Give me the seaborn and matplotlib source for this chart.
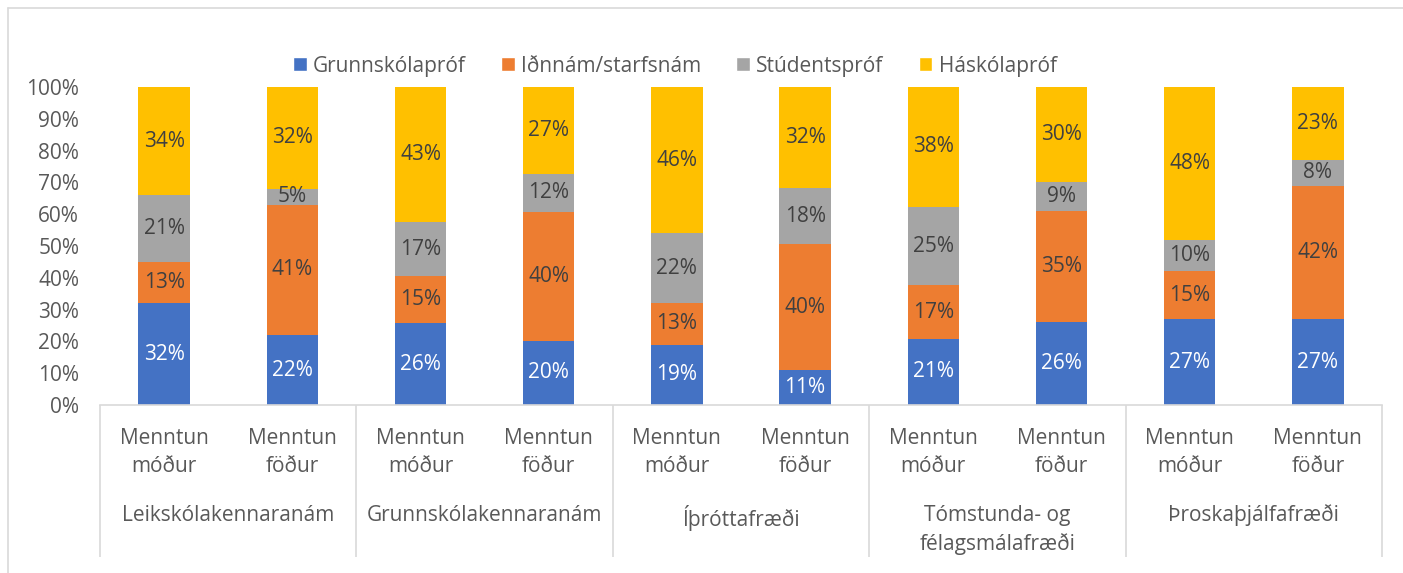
import pandas as pd
import seaborn as sns
import matplotlib.pyplot as plt
from matplotlib.colors import to_hex
from matplotlib.lines import Line2D
from matplotlib.patches import Patch

# data (percent labels)
programs = ["Leikskólakennaranám", "Grunnskólakennaranám", "Íþróttafræði",
            "Tómstunda- og\nfélagsmálafræði", "Þroskaþjálfafræði"]
parents = ["Menntun\nmóður", "Menntun\nföður"]
levels = ["Grunnskólapróf", "Iðnnám/starfsnám", "Stúdentspróf", "Háskólapróf"]
colors = ["#4472c4", "#ed7d31", "#a5a5a5", "#ffc000"]

grunnskolaprof = [32, 22, 26, 20, 19, 11, 21, 26, 27, 27]
idnnam = [13, 41, 15, 40, 13, 40, 17, 35, 15, 42]
studentsprof = [21, 5, 17, 12, 22, 18, 25, 9, 10, 8]
haskolaprof = [34, 32, 43, 27, 46, 32, 38, 30, 48, 23]

TXT = "#595959"
FONT = ["Open Sans", "DejaVu Sans"]
FS = 15


def build_frame():
    rows = []
    for lvl, vals in zip(levels, [grunnskolaprof, idnnam, studentsprof, haskolaprof]):
        for i, v in enumerate(vals):
            rows.append({"bar": i, "level": lvl, "value": v})
    return pd.DataFrame(rows)


def main():
    df = build_frame()
    sns.set_theme(style="white")
    plt.rcParams["font.family"] = FONT

    W, H = 1403, 573
    fig = plt.figure(figsize=(W / 100, H / 100), dpi=100)
    ax = fig.add_axes([100 / W, 1 - 405 / H, 1282 / W, 318 / H])

    # 100% stacked bars, first hue level ends on top so reverse the order
    sns.histplot(df, x="bar", hue="level", weights="value", multiple="fill",
                 discrete=True, shrink=0.4, hue_order=levels[::-1],
                 palette=dict(zip(levels, colors)), alpha=1, linewidth=0,
                 legend=False, ax=ax)

    labels = {lvl: vals for lvl, vals in
              zip(levels, [grunnskolaprof, idnnam, studentsprof, haskolaprof])}
    for c in ax.containers:
        fc = to_hex(c.patches[0].get_facecolor())
        lvl = levels[colors.index(fc)]
        ax.bar_label(c, labels=[f"{v}%" for v in labels[lvl]], label_type="center",
                     color="white" if lvl == levels[0] else "#404040", fontsize=FS)

    ax.set_xlim(-0.5, 9.5)
    ax.set_ylim(0, 1)
    ax.set_yticks([i / 10 for i in range(11)])
    ax.set_yticklabels([f"{i * 10}%" for i in range(11)])
    ax.set_xticks(range(10))
    ax.set_xticklabels(parents * 5, linespacing=1.45)
    ax.tick_params(axis="both", length=0, labelsize=FS, labelcolor=TXT)
    ax.tick_params(axis="y", pad=15)
    ax.tick_params(axis="x", pad=16.5)
    ax.set_xlabel("")
    ax.set_ylabel("")
    for s in ["left", "top", "right"]:
        ax.spines[s].set_visible(False)
    ax.spines["bottom"].set_color("#d9d9d9")
    ax.spines["bottom"].set_linewidth(1.2)

    # group labels and separators of the category axis
    tr = ax.get_xaxis_transform()
    for g, name in enumerate(programs):
        ax.text(2 * g + 0.5, -0.313, name, transform=tr, ha="center", va="top",
                fontsize=FS, color=TXT, linespacing=1.45)
    ax.vlines([-0.5, 1.5, 3.5, 5.5, 7.5, 9.5], -0.478, 0, transform=tr,
              colors="#d9d9d9", linewidth=1.2, clip_on=False)

    handles = [Patch(facecolor=c, label=l) for l, c in zip(levels, colors)]
    fig.legend(handles=handles, loc="center", bbox_to_anchor=(0.481, 1 - 66 / H),
               ncol=4, frameon=False, fontsize=FS, labelcolor=TXT,
               handlelength=0.65, handleheight=0.65, handletextpad=0.3,
               columnspacing=1.7)

    # chart border (only top and left edges are visible)
    fig.add_artist(Line2D([7.5 / W, 7.5 / W], [0, 1 - 7.5 / H], color="#d9d9d9",
                          linewidth=1.2, transform=fig.transFigure))
    fig.add_artist(Line2D([7.5 / W, 1], [1 - 7.5 / H, 1 - 7.5 / H], color="#d9d9d9",
                          linewidth=1.2, transform=fig.transFigure))

    fig.savefig("out.png", dpi=100)


if __name__ == '__main__':
    main()
